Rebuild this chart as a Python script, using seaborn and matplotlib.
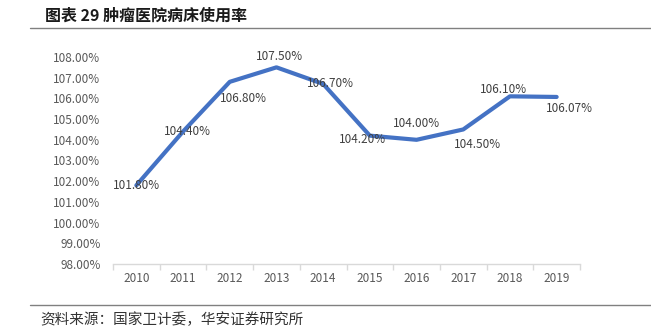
import matplotlib
matplotlib.use("Agg")
import matplotlib.pyplot as plt
import seaborn as sns
import pandas as pd
from matplotlib.ticker import FixedLocator, FuncFormatter
from matplotlib.lines import Line2D

years = ["2010", "2011", "2012", "2013", "2014", "2015", "2016", "2017", "2018", "2019"]
rates = [101.80, 104.40, 106.80, 107.50, 106.70, 104.20, 104.00, 104.50, 106.10, 106.07]
labels = ["101.80%", "104.40%", "106.80%", "107.50%", "106.70%", "104.20%", "104.00%", "104.50%", "106.10%", "106.07%"]
# label offsets in points (dx, dy)
offsets = [(0, 0), (3, 0), (10, -12), (2, 8), (5, 0), (-5, -3), (0, 12), (10, -11), (-5, 5), (9, -8)]

sns.set_theme(style="white")
plt.rcParams['font.family'] = ['Noto Sans CJK SC', 'DejaVu Sans']

df = pd.DataFrame({"year": years, "rate": rates})

fig = plt.figure(figsize=(6.51, 3.32), dpi=100)
ax = fig.add_axes([113/651, 1-264/332, (580-113)/651, (264-57)/332])

sns.lineplot(data=df, x="year", y="rate", ax=ax, color="#4472C4", linewidth=3, sort=False)

ax.set_ylim(98, 108)
ax.set_xlim(-0.5, len(years) - 0.5)
ax.set_yticks([98 + i for i in range(11)])
ax.yaxis.set_major_formatter(FuncFormatter(lambda v, p: f"{v:.2f}%"))
ax.set_xlabel("")
ax.set_ylabel("")

for s in ["top", "right", "left"]:
    ax.spines[s].set_visible(False)
ax.spines["bottom"].set_color("#D9D9D9")
ax.spines["bottom"].set_linewidth(1)

ax.tick_params(axis="y", length=0, labelsize=8.5, labelcolor="#595959", pad=9)
ax.tick_params(axis="x", which="major", length=0, labelsize=8.5, labelcolor="#595959", pad=6)
ax.xaxis.set_minor_locator(FixedLocator([i - 0.5 for i in range(len(years) + 1)]))
ax.tick_params(axis="x", which="minor", length=4, color="#D9D9D9", width=1, bottom=True)

for i, (r, lab) in enumerate(zip(rates, labels)):
    dx, dy = offsets[i]
    ax.annotate(lab, (i, r), xytext=(dx, dy), textcoords="offset points",
                ha="center", va="center", fontsize=8.5, color="#404040")

fig.text(45/651, 1-16/332, "图表 29 肿瘤医院病床使用率", fontsize=11.5, fontweight="bold",
         color="#1a1a1a", va="center", ha="left")
fig.add_artist(Line2D([30/651, 1.0], [1-28/332, 1-28/332], color="#808080", linewidth=1))
fig.add_artist(Line2D([30/651, 1.0], [1-305/332, 1-305/332], color="#808080", linewidth=1))
fig.text(40/651, 1-320/332, "资料来源：国家卫计委，华安证券研究所", fontsize=10.5,
         color="#333333", va="center", ha="left")

fig.savefig("out.png", dpi=100)
